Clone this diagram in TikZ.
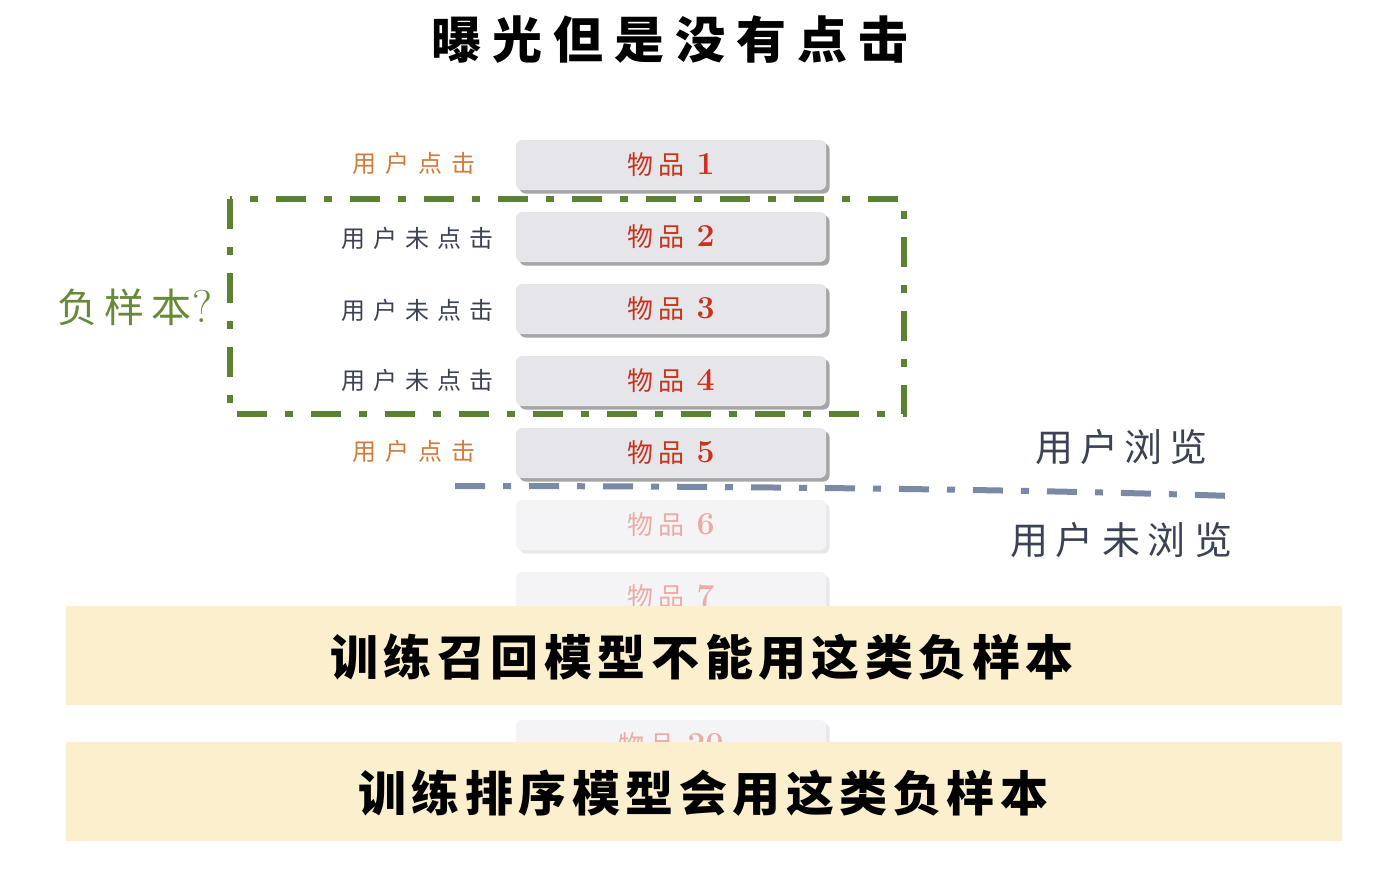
\documentclass[tikz,border=0pt]{standalone}
\usepackage{fontspec}
\usetikzlibrary{shadows}
\newfontfamily\cjk{Noto Sans CJK SC}
\newlength\spgap
\def\sptext#1{\sptextaux#1\relax\hskip-\spgap}
\def\sptextaux#1{\ifx#1\relax\else#1\hskip\spgap\expandafter\sptextaux\fi}
\newcommand\fs[1]{\fontsize{#1}{#1}\selectfont}
\definecolor{itemfill}{HTML}{E6E5E9}
\definecolor{itemred}{HTML}{C8321E}
\definecolor{clickorange}{HTML}{D27A3C}
\definecolor{slate}{HTML}{3B4254}
\definecolor{grn}{HTML}{5B8232}
\definecolor{grnlabel}{HTML}{668A3A}
\definecolor{bluegray}{HTML}{7A89A5}
\definecolor{banner}{HTML}{FBEFCD}
\tikzset{
  itembox/.style={draw=none, fill=itemfill, rounded corners=6pt,
    minimum width=310pt, minimum height=50pt, inner sep=0pt,
    text=itemred,
    drop shadow={shadow xshift=3.5pt, shadow yshift=-3.5pt, fill=black!70, opacity=.5}},
  fadedbox/.style={draw=none, fill=itemfill!45, rounded corners=6pt,
    minimum width=310pt, minimum height=50pt, inner sep=0pt,
    text=itemred!40,
    drop shadow={shadow xshift=3.5pt, shadow yshift=-3.5pt, fill=black!25, opacity=.35}},
  clicklbl/.style={anchor=east, text=clickorange, inner sep=0pt},
  noclicklbl/.style={anchor=east, text=slate, inner sep=0pt},
  bannerbox/.style={fill=banner, draw=none, minimum width=1276pt, minimum height=99pt, inner sep=0pt},
  greenbox/.style={draw=grn, line width=6.5pt, dash pattern=on 30pt off 18pt on 8pt off 18pt},
  sepline/.style={draw=bluegray, line width=6pt, dash pattern=on 30pt off 18pt on 8pt off 18pt},
}
\newcommand\itemtxt[1]{\fs{26}{\cjk\setlength\spgap{5pt}\sptext{物品}}\hskip12pt{\fs{32}\bfseries#1}}
\newcommand\clk{\fs{24}\cjk\setlength\spgap{9pt}\sptext{用户点击}}
\newcommand\noclk{\fs{24}\cjk\setlength\spgap{8pt}\sptext{用户未点击}}
\begin{document}
\begin{tikzpicture}[x=1pt,y=-1pt]
\useasboundingbox[fill=white] (0,0) rectangle (1394,868);
% title
\node[inner sep=0pt] (title) at (675,40) {\fs{50}\cjk\bfseries\setlength\spgap{11pt}\sptext{曝光但是没有点击}};
% items
\node[fadedbox] (i20) at (671,745) {\itemtxt{20}};
\node[fadedbox] (i7) at (671,597) {\itemtxt{7}};
\node[fadedbox] (i6) at (671,525) {\itemtxt{6}};
\node[itembox] (i5) at (671,453) {\itemtxt{5}};
\node[itembox] (i4) at (671,381) {\itemtxt{4}};
\node[itembox] (i3) at (671,309) {\itemtxt{3}};
\node[itembox] (i2) at (671,237) {\itemtxt{2}};
\node[itembox] (i1) at (671,165) {\itemtxt{1}};
% labels
\node[clicklbl] (l1) at (485,163) {\clk};
\node[noclicklbl] (l2) at (502,238) {\noclk};
\node[noclicklbl] (l3) at (502,310) {\noclk};
\node[noclicklbl] (l4) at (502,380) {\noclk};
\node[clicklbl] (l5) at (485,451) {\clk};
% green dash-dot box
\coordinate (gA) at (230,199);
\coordinate (gB) at (904,414);
\draw[greenbox] (gA) rectangle (gB);
\node[text=grnlabel, inner sep=0pt] (neg) at (135,307) {\fs{40}{\cjk\setlength\spgap{7pt}\sptext{负样本}}\hskip1pt{\fs{46}?}};
% separator
\coordinate (sL) at (455,486);
\coordinate (sR) at (1232,496);
\draw[sepline] (sL) .. controls (750,486) and (1050,490) .. (sR);
\node[text=slate, inner sep=0pt] (seen) at (1125,447) {\fs{38}\cjk\setlength\spgap{7pt}\sptext{用户浏览}};
\node[text=slate, inner sep=0pt] (unseen) at (1125,540) {\fs{38}\cjk\setlength\spgap{8pt}\sptext{用户未浏览}};
% banners
\node[bannerbox] (b1) at (704,655.5) {};
\node[inner sep=0pt] (t1) at (705,657) {\fs{48}\cjk\bfseries\setlength\spgap{5.5pt}\sptext{训练召回模型不能用这类负样本}};
\node[bannerbox] (b2) at (704,791) {};
\node[inner sep=0pt] (t2) at (706,793) {\fs{48}\cjk\bfseries\setlength\spgap{5.5pt}\sptext{训练排序模型会用这类负样本}};
\end{tikzpicture}
\end{document}
